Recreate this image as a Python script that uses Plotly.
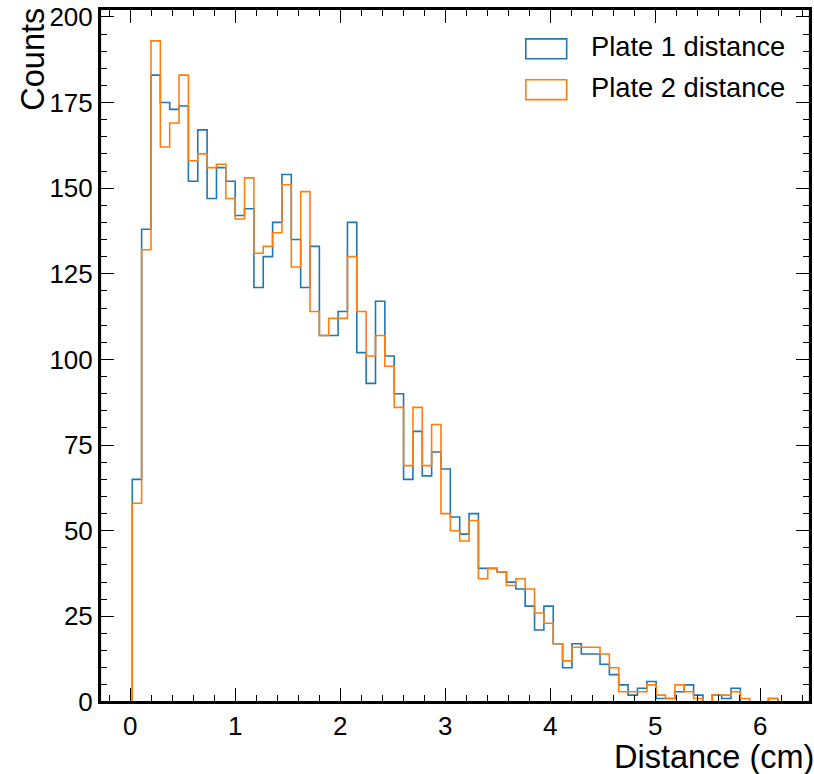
import numpy as np
import plotly.graph_objects as go

# ---- data ----
bin_lo = 0.0194
bin_hi = 6.168
n_bins = 69

plate1_counts = [65, 138, 183, 175, 173, 174, 152, 167, 147, 156,
                 152, 142, 144, 121, 130, 140, 154, 135, 121, 133,
                 107, 107, 114, 140, 102, 93, 117, 101, 90, 65,
                 79, 66, 73, 68, 54, 49, 55, 39, 39, 38,
                 35, 33, 28, 21, 28, 17, 10, 17, 14, 14,
                 11, 8, 5, 2, 4, 6, 1, 1, 3, 5,
                 2, 0, 2, 1, 4, 0, 0, 0, 1]
plate2_counts = [58, 132, 193, 162, 169, 183, 158, 160, 156, 157,
                 147, 141, 153, 131, 133, 137, 151, 127, 149, 114,
                 107, 112, 112, 130, 114, 101, 107, 98, 86, 69,
                 86, 69, 81, 55, 50, 47, 53, 36, 39, 38,
                 34, 36, 33, 26, 23, 17, 12, 16, 16, 16,
                 14, 10, 3, 3, 3, 5, 2, 1, 5, 3,
                 1, 0, 2, 2, 3, 1, 0, 0, 1]
series_names = ["Plate 1 distance", "Plate 2 distance"]
x_ticks = [0, 1, 2, 3, 4, 5, 6]
y_ticks = [0, 25, 50, 75, 100, 125, 150, 175, 200]

colors = ["#1f77b4", "#ff7f0e"]
edges = np.linspace(bin_lo, bin_hi, n_bins + 1)


def step_xy(counts):
    c = list(counts)
    xs = [edges[0]] + list(edges[:-1]) + [edges[-1], edges[-1]]
    ys = [0] + c + [c[-1], 0]
    return xs, ys


fig = go.Figure()
for counts, name, col in zip([plate1_counts, plate2_counts], series_names, colors):
    xs, ys = step_xy(counts)
    fig.add_trace(go.Scatter(x=xs, y=ys, mode="lines", line=dict(color=col, width=1.6, shape="hv"),
                             name=name, showlegend=False, hoverinfo="skip"))

FONT = "Liberation Sans, Arial, Helvetica, sans-serif"
W, H = 814, 774
L, R, T, B = 100, 2, 6, 72
pw, ph = W - L - R, H - T - B


def px(xpix):
    return (xpix - L) / pw


def py(ypix):
    return (H - B - ypix) / ph


axis_common = dict(
    showline=True, linecolor="black", linewidth=2, mirror="ticks",
    ticks="inside", ticklen=14, tickwidth=1.3, tickcolor="black",
    showgrid=False, zeroline=False, ticklabeloverflow="allow",
    tickfont=dict(family=FONT, size=26, color="black"),
)

fig.update_xaxes(range=[-0.288, 6.475], tickvals=x_ticks, ticktext=[str(v) for v in x_ticks],
                 minor=dict(dtick=0.2, tick0=0, ticks="inside", ticklen=7, tickwidth=1.1, tickcolor="black"),
                 **axis_common)
fig.update_yaxes(range=[0, 202.3], tickvals=y_ticks, ticktext=[str(v) for v in y_ticks],
                 minor=dict(dtick=5, tick0=0, ticks="inside", ticklen=7, tickwidth=1.1, tickcolor="black"),
                 **axis_common)

shapes = [dict(type="rect", xref="paper", yref="paper", x0=0, x1=1, y0=0, y1=1,
               line=dict(color="black", width=2.2), fillcolor="rgba(0,0,0,0)", layer="above")]
annotations = []
# legend drawn manually with outlined patches
for i, (name, col) in enumerate(zip(series_names, colors)):
    top = 36 + i * 41
    shapes.append(dict(type="rect", xref="paper", yref="paper",
                       x0=px(527), x1=px(568), y0=py(top + 20), y1=py(top),
                       line=dict(color=col, width=1.6), fillcolor="rgba(0,0,0,0)"))
    annotations.append(dict(text=name, xref="paper", yref="paper", x=px(590), y=py(top + 8),
                            xanchor="left", yanchor="middle", showarrow=False,
                            font=dict(family=FONT, size=27.3, color="black")))

annotations.append(dict(text="Counts", xref="paper", yref="paper", x=px(32), y=py(3),
                        xanchor="center", yanchor="top", textangle=-90, showarrow=False,
                        font=dict(family=FONT, size=32.5, color="black")))
annotations.append(dict(text="Distance (cm)", xref="paper", yref="paper", x=px(818), y=py(757),
                        xanchor="right", yanchor="middle", showarrow=False,
                        font=dict(family=FONT, size=32.5, color="black")))

fig.update_layout(
    width=W, height=H,
    margin=dict(l=L, r=R, t=T, b=B),
    plot_bgcolor="white", paper_bgcolor="white",
    showlegend=False,
    shapes=shapes, annotations=annotations,
)

fig.write_html("out.html")
